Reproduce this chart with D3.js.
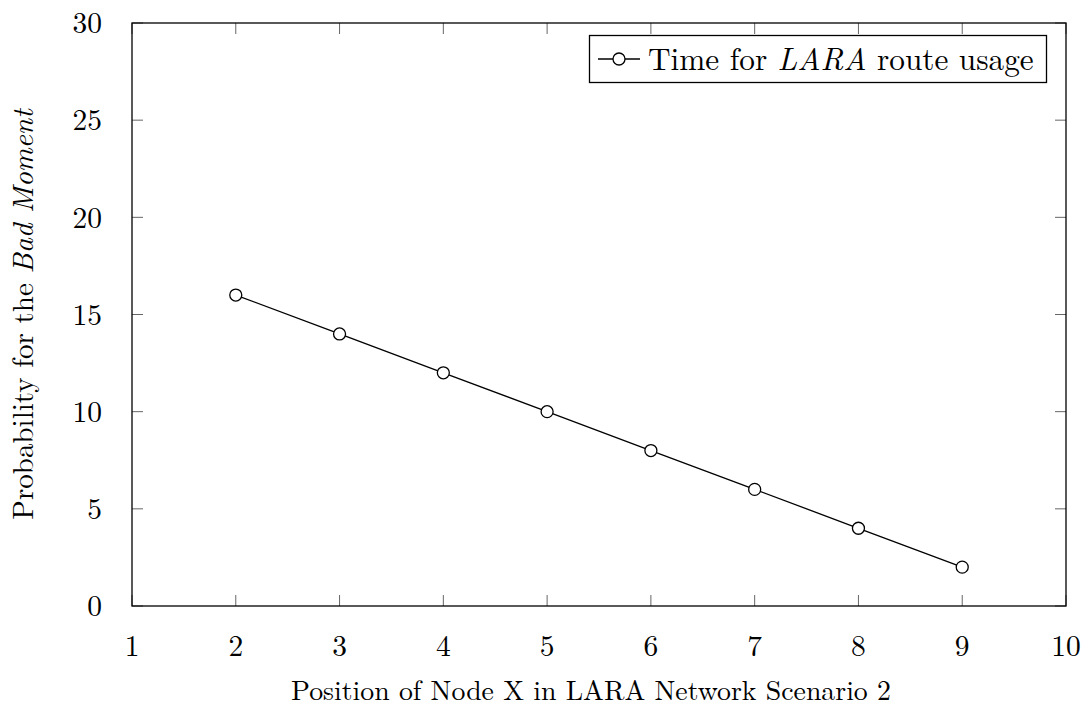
<!DOCTYPE html>
<html>
<head>
<meta charset="utf-8">
<script src="https://cdn.jsdelivr.net/npm/d3@7"></script>
<style>
  body { margin: 0; background: #fff; }
  text { font-family: "Latin Modern Roman", "CMU Serif", "Liberation Serif", "DejaVu Serif", serif; fill: #000; }
</style>
</head>
<body>
<script>
// chart values
const positions = [2, 3, 4, 5, 6, 7, 8, 9];
const probabilities = [16, 14, 12, 10, 8, 6, 4, 2];
const xTicks = [1, 2, 3, 4, 5, 6, 7, 8, 9, 10];
const yTicks = [0, 5, 10, 15, 20, 25, 30];

const w = 1083, h = 718;
const margin = { top: 23, right: 17, bottom: 112, left: 132 };
const fontSize = 29.5;

const svg = d3.select("body").append("svg")
    .attr("width", w)
    .attr("height", h);

const x = d3.scaleLinear().domain([1, 10]).range([margin.left, w - margin.right]);
const y = d3.scaleLinear().domain([0, 30]).range([h - margin.bottom, margin.top]);

// ticks on all four sides, pointing inward
const tickLen = 11;
const ticks = svg.append("g").attr("stroke", "#666").attr("stroke-width", 1);

ticks.selectAll(".xb").data(xTicks).enter().append("line")
    .attr("x1", d => x(d)).attr("x2", d => x(d))
    .attr("y1", y(0)).attr("y2", y(0) - tickLen);
ticks.selectAll(".xt").data(xTicks).enter().append("line")
    .attr("x1", d => x(d)).attr("x2", d => x(d))
    .attr("y1", y(30)).attr("y2", y(30) + tickLen);
ticks.selectAll(".yl").data(yTicks).enter().append("line")
    .attr("y1", d => y(d)).attr("y2", d => y(d))
    .attr("x1", x(1)).attr("x2", x(1) + tickLen);
ticks.selectAll(".yr").data(yTicks).enter().append("line")
    .attr("y1", d => y(d)).attr("y2", d => y(d))
    .attr("x1", x(10)).attr("x2", x(10) - tickLen);

// frame
svg.append("rect")
    .attr("x", x(1)).attr("y", y(30))
    .attr("width", x(10) - x(1)).attr("height", y(0) - y(30))
    .attr("fill", "none").attr("stroke", "#000").attr("stroke-width", 1.3);

// tick labels
svg.selectAll(".xLabel").data(xTicks).enter().append("text")
    .attr("x", d => x(d))
    .attr("y", y(0) + 50)
    .attr("text-anchor", "middle")
    .attr("font-size", fontSize)
    .text(d => d);

svg.selectAll(".yLabel").data(yTicks).enter().append("text")
    .attr("x", x(1) - 30)
    .attr("y", d => y(d))
    .attr("dy", "0.35em")
    .attr("text-anchor", "end")
    .attr("font-size", fontSize)
    .text(d => d);

// axis titles
svg.append("text")
    .attr("x", 591)
    .attr("y", 700)
    .attr("text-anchor", "middle")
    .attr("font-size", 27.8)
    .text("Position of Node X in LARA Network Scenario 2");

const yTitle = svg.append("text")
    .attr("transform", "translate(33," + ((y(0) + y(30)) / 2) + ") rotate(-90)")
    .attr("text-anchor", "middle")
    .attr("font-size", 29);
yTitle.append("tspan").text("Probability for the ");
yTitle.append("tspan").attr("font-style", "italic").text("Bad Moment");

// series
const pts = positions.map((p, i) => [p, probabilities[i]]);
const line = d3.line().x(d => x(d[0])).y(d => y(d[1]));

svg.append("path")
    .datum(pts)
    .attr("d", line)
    .attr("fill", "none")
    .attr("stroke", "#000")
    .attr("stroke-width", 1.3);

svg.selectAll(".mark").data(pts).enter().append("circle")
    .attr("cx", d => x(d[0]))
    .attr("cy", d => y(d[1]))
    .attr("r", 6)
    .attr("fill", "#fff")
    .attr("stroke", "#000")
    .attr("stroke-width", 1.3);

// legend
const legend = svg.append("g");
legend.append("rect")
    .attr("x", 589.5).attr("y", 35.5)
    .attr("width", 457).attr("height", 47)
    .attr("fill", "#fff").attr("stroke", "#000").attr("stroke-width", 1.3);
legend.append("line")
    .attr("x1", 598).attr("x2", 640)
    .attr("y1", 59).attr("y2", 59)
    .attr("stroke", "#000").attr("stroke-width", 1.3);
legend.append("circle")
    .attr("cx", 619).attr("cy", 59).attr("r", 6)
    .attr("fill", "#fff").attr("stroke", "#000").attr("stroke-width", 1.3);
const lt = legend.append("text")
    .attr("x", 648).attr("y", 59).attr("dy", "0.35em")
    .attr("font-size", 31.3);
lt.append("tspan").text("Time for ");
lt.append("tspan").attr("font-style", "italic").text("LARA");
lt.append("tspan").text(" route usage");
</script>
</body>
</html>
